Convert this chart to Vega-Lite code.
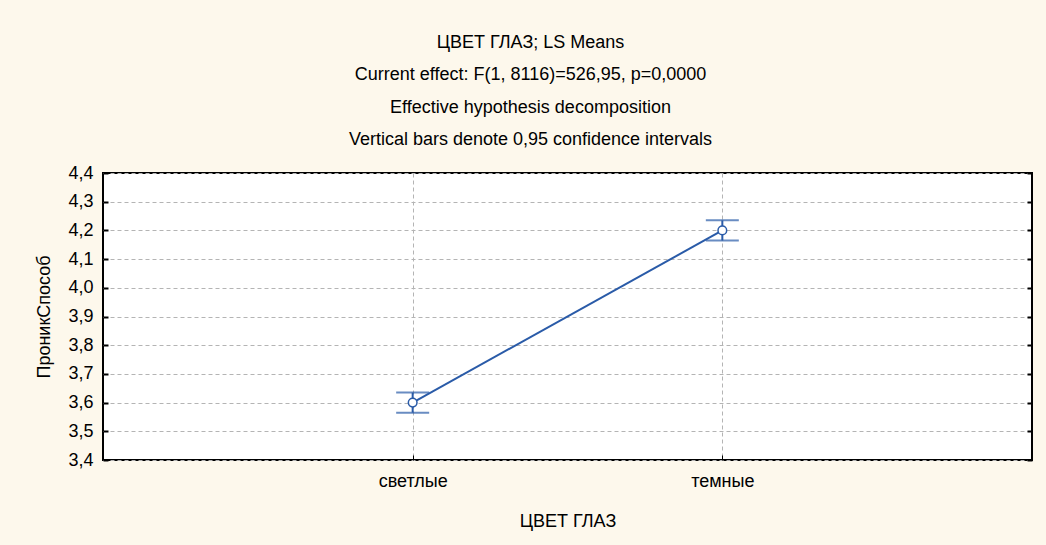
{
  "$schema": "https://vega.github.io/schema/vega-lite/v6.json",
  "autosize": "none",
  "width": 929,
  "height": 287,
  "padding": {"left": 103, "top": 173, "right": 14, "bottom": 85},
  "background": "#FDF8EC",
  "title": {
    "text": ["ЦВЕТ ГЛАЗ; LS Means", "Current effect: F(1, 8116)=526,95, p=0,0000", "Effective hypothesis decomposition", "Vertical bars denote 0,95 confidence intervals"],
    "anchor": "middle",
    "frame": "group",
    "dx": -37,
    "offset": 15,
    "font": "Liberation Sans",
    "fontSize": 18,
    "fontWeight": "normal",
    "lineHeight": 32.5,
    "color": "#000000"
  },
  "config": {
    "view": {"stroke": "#000000", "strokeWidth": 2, "fill": "#ffffff"},
    "font": "Liberation Sans"
  },
  "data": {
    "values": [
      {"cat": "светлые", "mean": 3.6, "lo": 3.565, "hi": 3.635},
      {"cat": "темные", "mean": 4.2, "lo": 4.165, "hi": 4.235}
    ]
  },
  "encoding": {
    "x": {
      "field": "cat",
      "type": "nominal",
      "sort": null,
      "scale": {"type": "point", "padding": 1},
      "axis": {
        "title": "ЦВЕТ ГЛАЗ",
        "titleFont": "Liberation Sans",
        "titleFontSize": 18,
        "titleFontWeight": "normal",
        "titleColor": "#000000",
        "titlePadding": 22,
        "labelFont": "Liberation Sans",
        "labelFontSize": 18,
        "labelColor": "#000000",
        "labelAngle": 0,
        "labelPadding": 17,
        "domain": false,
        "ticks": true,
        "tickSize": -5,
        "tickColor": "#000000",
        "grid": true,
        "gridColor": "#b4b4b4",
        "gridDash": [4, 3],
        "gridWidth": 1
      }
    }
  },
  "resolve": {"axis": {"y": "independent"}},
  "layer": [
    {
      "mark": {"type": "line", "color": "#2a5ba8", "strokeWidth": 2},
      "encoding": {
        "y": {
          "field": "mean",
          "type": "quantitative",
          "scale": {"domain": [3.4, 4.4], "nice": false, "zero": false},
          "axis": {
            "title": "ПроникСпособ",
            "titleFont": "Liberation Sans",
            "titleFontSize": 18,
            "titleFontWeight": "normal",
            "titleColor": "#000000",
            "titlePadding": 14,
            "values": [3.4, 3.5, 3.6, 3.7, 3.8, 3.9, 4.0, 4.1, 4.2, 4.3, 4.4],
            "labelExpr": "replace(format(datum.value, '.1f'), '.', ',')",
            "labelFont": "Liberation Sans",
            "labelFontSize": 18,
            "labelColor": "#000000",
            "labelPadding": 15,
            "labelOverlap": false,
            "domain": false,
            "ticks": true,
            "tickSize": -5,
            "tickColor": "#000000",
            "tickWidth": 2,
            "grid": true,
            "gridColor": "#b4b4b4",
            "gridDash": [4, 3],
            "gridWidth": 1
          }
        }
      }
    },
    {
      "mark": {"type": "rule", "color": "#2a5ba8", "strokeWidth": 2},
      "encoding": {
        "y": {"field": "lo", "type": "quantitative", "axis": null},
        "y2": {"field": "hi"}
      }
    },
    {
      "mark": {"type": "tick", "color": "#2a5ba8", "size": 33, "thickness": 2, "orient": "horizontal"},
      "encoding": {"y": {"field": "lo", "type": "quantitative", "axis": null}}
    },
    {
      "mark": {"type": "tick", "color": "#2a5ba8", "size": 33, "thickness": 2, "orient": "horizontal"},
      "encoding": {"y": {"field": "hi", "type": "quantitative", "axis": null}}
    },
    {
      "mark": {"type": "point", "shape": "circle", "filled": true, "fill": "#ffffff", "stroke": "#2a5ba8", "strokeWidth": 1.5, "size": 75, "opacity": 1},
      "encoding": {
        "y": {
          "field": "mean",
          "type": "quantitative",
          "axis": {
            "orient": "right",
            "title": null,
            "labels": false,
            "values": [3.4, 3.5, 3.6, 3.7, 3.8, 3.9, 4.0, 4.1, 4.2, 4.3, 4.4],
            "domain": false,
            "grid": false,
            "ticks": true,
            "tickSize": -5,
            "tickColor": "#000000",
            "tickWidth": 2
          }
        }
      }
    }
  ]
}
